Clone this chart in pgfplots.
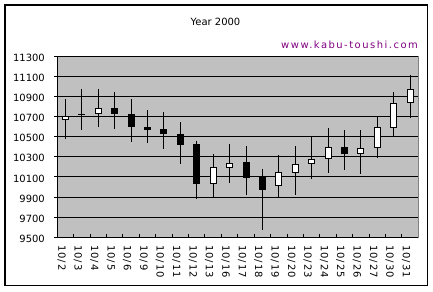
\documentclass[border=0pt]{standalone}
\usepackage{pgfplots}
\pgfplotsset{compat=1.18}
\usepackage{pgfplotstable}
\usepackage{fontspec}
\setmainfont{DejaVu Sans}
\newfontfamily\webfont[LetterSpace=15]{DejaVu Sans}
\newfontfamily\xtickfont[LetterSpace=10]{DejaVu Sans}
\definecolor{plotgray}{HTML}{C0C0C0}
\definecolor{edgegray}{HTML}{808080}
\definecolor{webpurple}{HTML}{800080}
\pgfkeys{/pgf/number format/assume math mode=true, /pgf/number format/1000 sep={}}

\pgfplotstableread{
x o h l c
0 10672 10872 10478 10698
1 10718 10972 10565 10726
2 10730 10972 10598 10782
3 10782 10945 10578 10728
4 10722 10872 10452 10598
5 10595 10765 10438 10568
6 10575 10745 10378 10528
7 10522 10642 10228 10418
8 10425 10462 9878 10038
9 10032 10325 9892 10192
10 10192 10425 10038 10232
11 10245 10405 9925 10095
12 10092 10175 9568 9978
13 10018 10315 9892 10145
14 10140 10405 9925 10225
15 10232 10498 10078 10275
16 10282 10585 10138 10395
17 10395 10565 10165 10332
18 10335 10565 10132 10382
19 10392 10698 10292 10592
20 10592 10945 10502 10835
21 10842 11118 10685 10972
}\candles

\pgfplotsset{
  candlebase/.style={
    at={(57.3bp,53.7bp)}, anchor=south west,
    scale only axis, width=361bp, height=181bp,
    xmin=-0.5, xmax=21.5, ymin=9500, ymax=11300,
    enlargelimits=false,
  }
}

\begin{document}
\begin{tikzpicture}[x=1bp,y=1bp]
\path[use as bounding box, fill=white] (0,0) rectangle (433,291);
\draw[line width=1.2bp] (5,5.5) rectangle (427.5,286);
\node[font=\fontsize{10}{12}\selectfont, inner sep=0] at (215.5,269.5) {Year 2000};
\node[font=\webfont\fontsize{10}{12}\selectfont, text=webpurple, anchor=base east, inner sep=0] at (418,242.3) {www.kabu-toushi.com};

% main axis: background, grid, y ticks, category labels, wicks
\begin{axis}[candlebase,
  axis background/.style={fill=plotgray, draw=edgegray, line width=1bp},
  axis x line*=bottom, axis y line*=left,
  axis line style={black, line width=1bp, -},
  tick align=outside,
  major tick length=3bp,
  tick style={black, line width=1bp},
  x tick style={draw=none},
  ytick={9500,9700,...,11300},
  scaled y ticks=false,
  ymajorgrids,
  major grid style={black, line width=1bp},
  xtick={0,1,...,21},
  xticklabels={10/2,10/3,10/4,10/5,10/6,10/9,10/10,10/11,10/12,10/13,10/16,10/17,10/18,10/19,10/20,10/23,10/24,10/25,10/26,10/27,10/30,10/31},
  tick label style={font=\fontsize{10}{12}\selectfont},
  xticklabel style={font=\xtickfont\fontsize{10}{12}\selectfont, rotate=-90, anchor=west, xshift=1.5bp, yshift=-4bp},
  yticklabel style={xshift=-6bp, yshift=-1.5bp},
]
\addplot[draw=none, mark=none, forget plot,
  error bars/.cd, y dir=minus, y explicit, error mark=none,
  error bar style={black, line width=1bp}]
  table[x=x, y=h, y error expr={\thisrow{h}-\thisrow{l}}] {\candles};
\end{axis}

% category boundary ticks on the x axis, pointing inward
\begin{axis}[candlebase, hide y axis,
  axis x line*=bottom,
  axis line style={black, line width=1bp, -},
  tick align=inside, major tick length=3bp,
  tick style={black, line width=1bp},
  xtick={0.5,1.5,...,20.5},
  xticklabels={},
]
\end{axis}

% candle bodies
\begin{axis}[candlebase, hide axis, ybar stacked, bar width=6bp]
\addplot[draw=none, fill=none] table[x=x, y expr={min(\thisrow{o},\thisrow{c})}] {\candles};
\addplot[draw=black, fill=white, line width=1bp] table[x=x, y expr={max(\thisrow{c}-\thisrow{o},0)}] {\candles};
\addplot[draw=black, fill=black, line width=1bp] table[x=x, y expr={max(\thisrow{o}-\thisrow{c},0)}] {\candles};
\end{axis}
\end{tikzpicture}
\end{document}
